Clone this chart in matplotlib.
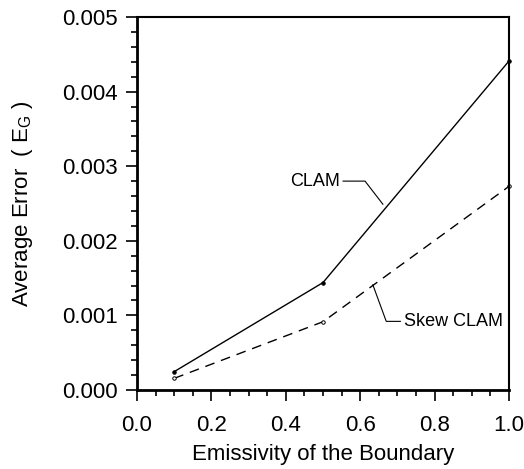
import matplotlib
matplotlib.use('Agg')
import matplotlib.pyplot as plt
from matplotlib.ticker import MultipleLocator, FormatStrFormatter

plt.rcParams['font.family'] = ['Liberation Sans', 'DejaVu Sans']
plt.rcParams['mathtext.fontset'] = 'custom'
plt.rcParams['mathtext.rm'] = 'Liberation Sans'

# data
emissivity = [0.1, 0.5, 1.0]
clam = [0.000246, 0.00144, 0.00441]
skew_clam = [0.000156, 0.000915, 0.00273]

fig = plt.figure(figsize=(5.24, 4.69), dpi=100)
ax = fig.add_axes([137 / 524, 1 - 390 / 469, 372 / 524, 373 / 469])

ax.plot(emissivity, clam, '-', color='black', lw=1.0, clip_on=False,
        marker='o', ms=2.5, mfc='black', mec='black', mew=0.7)
ax.plot(emissivity, skew_clam, color='black', lw=1.0, linestyle=(0, (7, 5)),
        clip_on=False, marker='o', ms=2.5, mfc='white', mec='black', mew=0.7)

# leader lines for the labels
ax.plot([0.554, 0.613, 0.661], [0.0028, 0.0028, 0.00249], color='black', lw=0.8)
ax.text(0.546, 0.0028, 'CLAM', ha='right', va='center', fontsize=13)
ax.plot([0.634, 0.670, 0.708], [0.00141, 0.00092, 0.00092], color='black', lw=0.8)
ax.text(0.717, 0.00092, 'Skew CLAM', ha='left', va='center', fontsize=13)

ax.set_xlim(0, 1.0)
ax.set_ylim(0, 0.005)
ax.xaxis.set_major_locator(MultipleLocator(0.2))
ax.xaxis.set_minor_locator(MultipleLocator(0.05))
ax.yaxis.set_major_locator(MultipleLocator(0.001))
ax.yaxis.set_minor_locator(MultipleLocator(0.0002))
ax.xaxis.set_major_formatter(FormatStrFormatter('%.1f'))
ax.yaxis.set_major_formatter(FormatStrFormatter('%.3f'))

ax.tick_params(which='both', direction='out', top=False, right=False,
               labelsize=16, width=1.2)
ax.tick_params(which='major', length=8, pad=6)
ax.tick_params(axis='x', which='major', pad=10)
ax.tick_params(which='minor', length=4)

for side in ['left', 'bottom']:
    ax.spines[side].set_linewidth(2.0)
for side in ['top', 'right']:
    ax.spines[side].set_linewidth(1.5)

ax.set_xlabel('Emissivity of the Boundary', fontsize=16, labelpad=6)
ax.set_ylabel('Average Error  ( E$_\\mathrm{G}$ )', fontsize=16, labelpad=19)

plt.savefig('out.png', dpi=100)
plt.close()
